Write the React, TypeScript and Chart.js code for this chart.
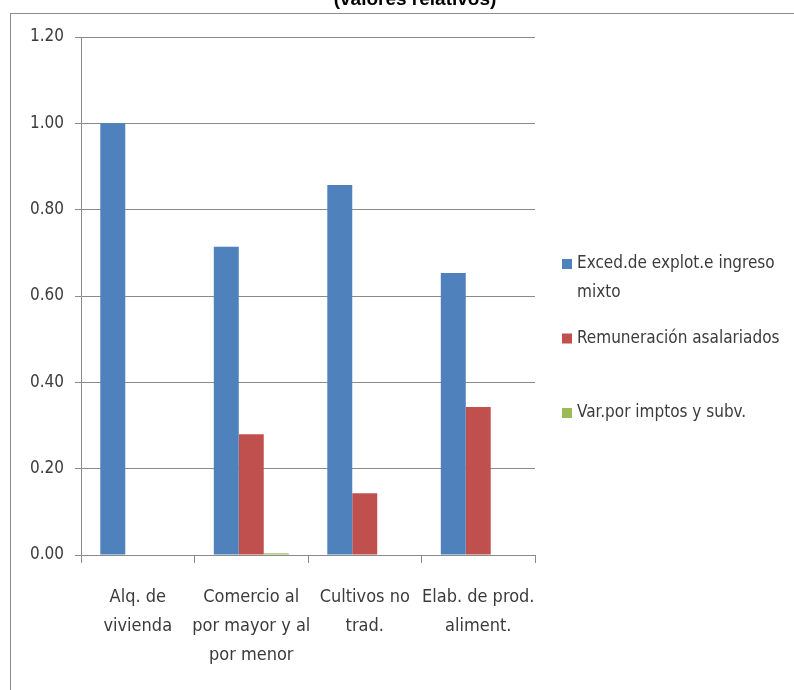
import React, { useEffect, useRef } from "react";
import { Chart, registerables } from "chart.js";

Chart.register(...registerables);

const categories: string[][] = [
  ["Alq. de", "vivienda"],
  ["Comercio al", "por mayor y al", "por menor"],
  ["Cultivos no", "trad."],
  ["Elab. de prod.", "aliment."],
];
const seriesNames = [
  "Exced.de explot.e ingreso mixto",
  "Remuneración asalariados",
  "Var.por imptos y subv.",
];
const excedente = [1.0, 0.714, 0.857, 0.653];
const remuneracion = [0, 0.28, 0.143, 0.343];
const impuestos = [0, 0.004, 0, 0];
const yTicks = [0, 0.2, 0.4, 0.6, 0.8, 1.0, 1.2];
const titleText = "(valores relativos)";

const COLORS = ["#4F81BD", "#C0504D", "#9BBB59"];
const FONT = "'DejaVu Sans Condensed', 'Liberation Sans', sans-serif";
const GRID = "#8a8a8a";
const TEXT = "#3b3b3b";

const decorPlugin = {
  id: "decor",
  beforeDraw(chart: any) {
    const ctx = chart.ctx;
    ctx.save();
    ctx.fillStyle = "#ffffff";
    ctx.fillRect(0, 0, chart.width, chart.height);
    ctx.strokeStyle = "#8c8c8c";
    ctx.lineWidth = 1;
    ctx.strokeRect(10.5, 13.5, chart.width, chart.height);
    ctx.fillStyle = "#000000";
    ctx.font = "bold 19px 'Liberation Sans', Arial, sans-serif";
    ctx.textAlign = "center";
    ctx.textBaseline = "alphabetic";
    ctx.fillText(titleText, 415, 5);
    ctx.restore();
  },
  afterDraw(chart: any) {
    const ctx = chart.ctx;
    ctx.save();
    ctx.font = "17px " + FONT;
    ctx.textBaseline = "middle";
    ctx.textAlign = "left";
    const x0 = 562;
    const maxW = 210;
    chart.data.datasets.forEach((ds: any, i: number) => {
      const cy = 264 + i * 74.5;
      ctx.fillStyle = ds.backgroundColor;
      ctx.fillRect(x0, cy - 5, 10, 10);
      ctx.fillStyle = TEXT;
      const words = String(ds.label).split(" ");
      const lines: string[] = [];
      let cur = "";
      words.forEach((w) => {
        const t = cur ? cur + " " + w : w;
        if (ctx.measureText(t).width > maxW && cur) {
          lines.push(cur);
          cur = w;
        } else cur = t;
      });
      if (cur) lines.push(cur);
      lines.forEach((ln, k) => ctx.fillText(ln, x0 + 15, cy + k * 29));
    });
    ctx.restore();
  },
};

export default function App() {
  const ref = useRef<HTMLCanvasElement>(null);
  useEffect(() => {
    document.body.style.margin = "0";
    const chart = new Chart(ref.current as HTMLCanvasElement, {
      type: "bar",
      data: {
        labels: categories,
        datasets: [
          { label: seriesNames[0], data: excedente, backgroundColor: COLORS[0] },
          { label: seriesNames[1], data: remuneracion, backgroundColor: COLORS[1] },
          { label: seriesNames[2], data: impuestos, backgroundColor: COLORS[2] },
        ],
      },
      options: {
        animation: false,
        responsive: false,
        devicePixelRatio: 1,
        layout: { padding: { left: 0, top: 37, right: 259, bottom: 0 } },
        datasets: { bar: { categoryPercentage: 0.66, barPercentage: 1.0 } },
        plugins: { legend: { display: false }, title: { display: false }, tooltip: { enabled: false } },
        scales: {
          x: {
            offset: true,
            grid: { offset: true, drawOnChartArea: false, drawTicks: true, tickLength: 8, color: GRID },
            border: { color: GRID },
            ticks: {
              padding: 20,
              color: TEXT,
              maxRotation: 0,
              autoSkip: false,
              font: { family: FONT, size: 18, lineHeight: 1.6 },
            },
            afterFit: (s: any) => { s.height = 135; },
          },
          y: {
            min: 0,
            max: 1.2,
            afterBuildTicks: (s: any) => { s.ticks = yTicks.map((v) => ({ value: v })); },
            grid: { color: GRID, tickLength: 6 },
            border: { color: GRID },
            ticks: {
              padding: 11,
              color: TEXT,
              font: { family: FONT, size: 17 },
              callback: (v: any) => Number(v).toFixed(2),
            },
            afterFit: (s: any) => { s.width = 81; },
          },
        },
      },
      plugins: [decorPlugin],
    });
    return () => chart.destroy();
  }, []);
  return <canvas ref={ref} width={794} height={690} style={{ display: "block" }} />;
}
